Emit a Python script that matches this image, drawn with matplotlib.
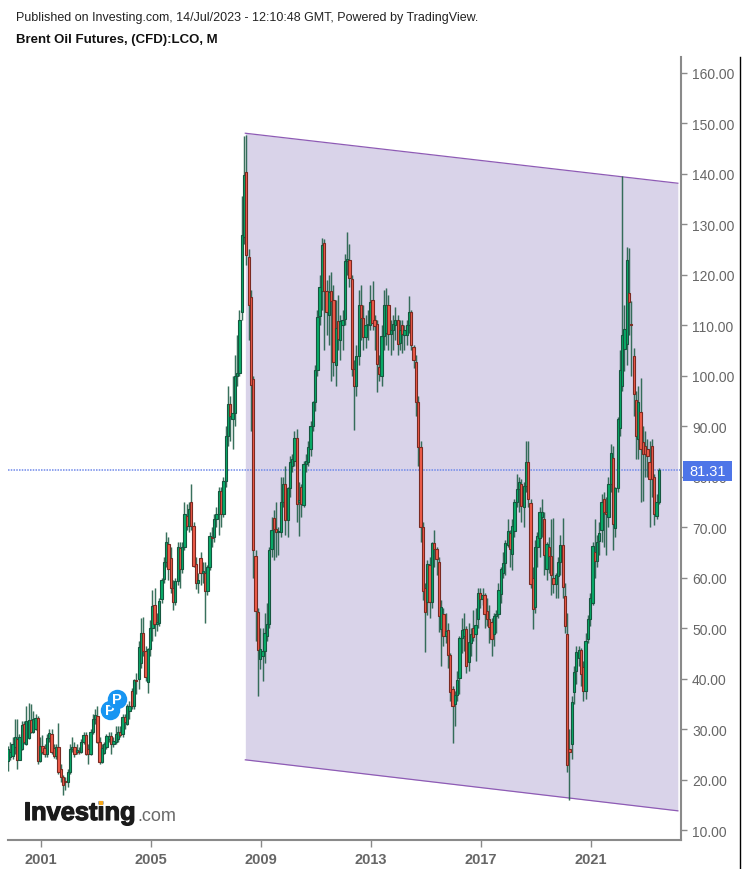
import matplotlib
matplotlib.use('Agg')
import matplotlib.pyplot as plt
import matplotlib.dates as mdates
import matplotlib.patheffects as pe
from matplotlib.lines import Line2D
from matplotlib.patches import Rectangle
import pandas as pd

W, H = 747, 870

# monthly candles, Nov 1999 to Jul 2023, one line per year
opens = [
    23.7, 24.5,
    24.7, 26.5, 28.1, 23.9, 26.0, 30.9, 27.0, 28.2, 31.8, 29.5, 30.0, 32.2,
    23.7, 26.7, 26.3, 25.0, 28.3, 29.0, 26.3, 24.7, 26.5, 22.0, 20.5, 19.8,
    19.5, 21.5, 26.0, 26.5, 25.5, 25.5, 25.4, 27.5, 28.8, 26.0, 25.0, 29.5,
    32.0, 32.6, 27.5, 23.5, 25.3, 26.5, 28.0, 28.7, 27.0, 27.5, 28.0, 29.5,
    29.0, 32.3, 31.0, 33.6, 37.5, 34.5, 39.8, 39.9, 43.0, 49.1, 45.5, 39.4,
    45.8, 50.1, 54.6, 50.8, 51.0, 55.7, 59.7, 63.0, 66.7, 63.8, 58.0, 55.1,
    59.4, 65.8, 61.7, 66.0, 72.1, 70.3, 75.0, 70.3, 62.6, 59.0, 63.8, 61.0,
    61.0, 57.3, 62.0, 68.0, 68.0, 71.6, 72.6, 77.1, 72.6, 79.2, 88.0, 94.4,
    91.4, 92.5, 100.0, 100.6, 112.6, 127.4, 140.4, 123.4, 115.5, 99.3, 64.2, 53.1,
    43.9, 44.5, 45.5, 48.5, 50.8, 65.6, 71.7, 69.7, 69.0, 69.0, 75.0, 78.5,
    71.3, 77.7, 82.0, 83.0, 87.6, 75.0, 78.0, 74.4, 82.5, 82.9, 85.5, 90.0,
    94.7, 101.1, 111.9, 116.8, 126.2, 116.8, 112.0, 116.8, 114.9, 102.0, 110.9, 107.0,
    110.0, 111.2, 122.6, 122.9, 119.2, 101.3, 97.9, 103.8, 114.0, 111.4, 107.6, 110.0,
    110.0, 115.0, 111.0, 110.2, 101.8, 100.0, 107.8, 108.5, 114.0, 108.2, 109.0, 110.0,
    111.0, 106.5, 110.0, 108.0, 108.0, 110.0, 112.5, 105.6, 102.7, 94.7, 85.8, 70.1,
    58.0, 55.1, 62.5, 55.2, 66.8, 65.6, 63.0, 49.8, 52.8, 48.5, 49.7, 44.6,
    37.9, 35.0, 36.7, 40.2, 48.1, 48.5, 49.8, 43.2, 47.0, 50.1, 48.8, 51.8,
    56.9, 55.7, 56.6, 53.4, 51.8, 51.1, 48.8, 52.4, 52.8, 56.7, 61.0, 62.9,
    66.5, 68.9, 64.6, 69.3, 75.0, 77.5, 78.5, 74.0, 78.2, 82.8, 74.7, 60.0,
    54.1, 66.0, 67.9, 72.0, 71.6, 61.7, 66.0, 64.2, 60.0, 58.7, 60.4, 63.0,
    66.4, 56.3, 48.9, 26.0, 27.0, 37.4, 41.5, 44.0, 45.6, 42.2, 37.5, 47.8,
    51.8, 55.0, 65.0, 63.3, 67.3, 69.4, 75.5, 73.0, 71.9, 78.5, 83.6, 69.9,
    77.8, 89.7, 98.0, 105.2, 106.2, 116.3, 110.2, 103.8, 95.2, 87.5, 92.7, 86.8,
    86.0, 85.4, 82.9, 86.0, 80.0, 72.1, 75.0,
]
closes = [
    26.0, 25.5,
    27.0, 28.5, 23.9, 28.4, 30.8, 27.5, 31.5, 31.8, 29.5, 32.0, 32.2, 23.7,
    26.7, 25.5, 25.0, 28.2, 29.2, 25.5, 24.6, 26.5, 21.5, 20.5, 19.0, 19.5,
    21.5, 26.0, 26.5, 25.0, 25.6, 25.4, 27.5, 28.8, 25.0, 25.0, 29.5, 32.0,
    32.8, 27.5, 23.5, 26.2, 27.0, 28.6, 28.7, 27.0, 27.7, 29.0, 29.5, 28.8,
    32.3, 31.4, 34.5, 34.5, 34.5, 39.8, 39.5, 46.3, 49.1, 45.5, 40.4, 45.8,
    50.1, 54.4, 50.8, 51.2, 55.4, 59.6, 63.0, 67.0, 61.7, 58.0, 55.1, 59.3,
    66.0, 61.7, 66.0, 72.6, 70.3, 73.6, 70.3, 62.3, 59.0, 59.5, 61.0, 61.2,
    57.4, 62.0, 68.2, 67.8, 71.6, 72.6, 77.1, 72.6, 79.2, 88.0, 94.4, 92.0,
    92.5, 100.0, 100.6, 111.0, 127.8, 139.8, 123.9, 114.0, 98.1, 65.4, 53.4, 45.6,
    45.8, 45.5, 49.1, 50.8, 65.5, 69.5, 69.6, 69.0, 69.3, 75.0, 78.5, 71.3,
    77.7, 82.8, 83.5, 87.6, 74.6, 75.3, 74.6, 82.5, 83.1, 85.9, 90.0, 94.7,
    101.1, 111.7, 117.5, 125.9, 116.8, 112.5, 116.5, 114.8, 102.7, 109.5, 107.2, 110.9,
    111.0, 122.6, 123.0, 119.4, 101.3, 97.9, 103.8, 114.0, 111.4, 107.6, 110.0, 110.1,
    114.5, 110.4, 109.9, 102.2, 100.3, 107.8, 114.0, 114.0, 108.2, 109.0, 110.2, 111.0,
    106.2, 109.0, 108.2, 109.0, 110.0, 112.5, 106.0, 103.1, 94.7, 85.8, 70.1, 57.3,
    53.1, 62.7, 55.1, 66.8, 65.6, 63.7, 52.3, 54.1, 48.4, 49.5, 44.6, 37.3,
    34.6, 36.7, 39.7, 48.1, 49.7, 49.8, 42.4, 47.2, 48.8, 48.3, 50.6, 56.9,
    55.7, 56.6, 52.8, 51.8, 50.3, 47.8, 52.4, 52.8, 57.6, 61.6, 62.9, 66.9,
    69.2, 65.6, 70.3, 75.0, 77.5, 79.0, 74.2, 78.2, 82.8, 75.5, 58.7, 53.8,
    66.0, 68.3, 72.9, 73.0, 64.5, 66.6, 64.2, 60.5, 58.7, 60.5, 63.0, 66.5,
    58.2, 50.5, 22.9, 25.4, 35.3, 41.2, 45.2, 45.6, 40.9, 37.5, 47.5, 51.8,
    55.9, 66.2, 63.2, 67.0, 68.9, 75.0, 73.0, 72.5, 78.5, 84.6, 70.6, 77.8,
    91.4, 101.1, 108.0, 109.3, 122.9, 114.6, 110.0, 96.3, 88.0, 94.8, 85.4, 84.5,
    84.5, 84.1, 79.5, 79.6, 72.6, 75.0, 81.31,
]
highs = [
    26.7, 27.5,
    28.5, 32.0, 32.0, 29.0, 31.5, 31.5, 34.5, 35.2, 35.0, 33.5, 33.0, 32.5,
    28.5, 28.8, 27.0, 29.0, 30.0, 30.0, 27.0, 27.0, 31.2, 23.0, 20.8, 20.5,
    22.0, 27.0, 28.5, 27.5, 27.0, 26.5, 28.0, 29.5, 29.5, 27.0, 30.0, 33.0,
    34.0, 34.5, 28.5, 27.0, 27.5, 29.0, 29.5, 29.5, 28.5, 30.5, 30.5, 30.5,
    33.0, 33.0, 35.0, 35.5, 38.2, 40.0, 41.0, 47.5, 52.0, 52.1, 46.5, 46.0,
    51.5, 57.5, 58.0, 53.0, 56.0, 60.0, 64.0, 69.0, 68.0, 66.0, 59.5, 60.0,
    67.0, 67.0, 67.0, 75.0, 74.5, 75.0, 78.5, 71.0, 64.0, 61.0, 65.0, 63.0,
    63.0, 62.5, 69.0, 70.0, 72.5, 74.0, 78.0, 78.0, 80.0, 90.0, 98.0, 96.0,
    100.0, 104.0, 108.0, 113.0, 135.5, 147.5, 147.7, 125.0, 117.0, 100.0, 65.5, 54.0,
    50.0, 50.0, 53.0, 55.0, 66.0, 72.0, 73.3, 75.0, 70.0, 80.0, 80.0, 82.0,
    78.0, 84.0, 84.5, 89.0, 89.5, 79.0, 78.5, 83.0, 84.5, 87.0, 91.0, 95.0,
    102.0, 113.0, 120.0, 127.3, 127.0, 119.0, 120.0, 120.5, 118.0, 115.0, 116.0, 112.0,
    113.0, 124.0, 128.4, 126.0, 120.0, 103.0, 106.0, 117.0, 118.0, 114.0, 112.0, 113.0,
    118.0, 118.7, 112.0, 111.0, 104.0, 110.0, 117.0, 117.3, 116.0, 111.0, 112.0, 113.5,
    112.0, 111.0, 111.0, 110.0, 111.0, 115.7, 113.0, 106.0, 104.0, 96.0, 87.0, 71.0,
    59.0, 63.5, 64.0, 67.0, 69.5, 66.0, 64.0, 55.5, 54.0, 53.0, 51.0, 45.0,
    38.5, 37.5, 41.5, 48.5, 52.0, 53.0, 50.5, 51.0, 50.0, 53.5, 54.0, 58.0,
    58.0, 58.0, 57.0, 56.0, 54.5, 52.0, 53.0, 53.5, 59.0, 62.0, 65.0, 67.5,
    71.5, 69.5, 71.5, 75.5, 80.5, 80.0, 79.5, 79.0, 87.0, 87.0, 75.5, 62.0,
    67.5, 69.0, 74.0, 75.5, 73.0, 67.0, 68.0, 71.5, 71.8, 61.0, 64.0, 68.5,
    71.8, 59.0, 53.0, 30.0, 36.5, 42.5, 46.5, 46.5, 46.0, 43.5, 49.0, 52.5,
    57.0, 67.0, 71.5, 68.5, 71.0, 76.5, 77.0, 76.0, 80.0, 86.5, 86.0, 78.0,
    91.8, 105.0, 139.5, 114.0, 125.5, 125.2, 114.8, 105.5, 97.0, 98.0, 99.5, 90.0,
    89.0, 87.5, 87.0, 87.5, 80.5, 76.5, 81.7,
]
lows = [
    21.7, 23.8,
    24.0, 25.0, 22.0, 23.9, 25.8, 27.0, 26.8, 28.0, 29.3, 29.2, 29.8, 23.0,
    23.5, 25.0, 24.5, 24.5, 27.5, 25.0, 24.2, 24.0, 21.0, 19.5, 17.0, 18.0,
    18.5, 21.0, 25.5, 24.5, 25.0, 25.0, 25.2, 27.0, 24.8, 23.0, 24.8, 29.0,
    31.0, 27.2, 23.0, 23.3, 25.0, 26.0, 27.5, 25.0, 26.5, 27.0, 27.5, 28.5,
    28.5, 30.0, 30.8, 32.0, 34.0, 34.0, 37.0, 38.0, 42.0, 44.5, 39.5, 37.2,
    44.5, 47.5, 48.5, 49.5, 50.5, 55.0, 59.0, 62.0, 59.5, 57.0, 53.5, 54.5,
    58.5, 58.0, 61.0, 65.5, 69.5, 69.0, 69.5, 62.0, 57.7, 57.0, 58.5, 59.0,
    50.9, 56.5, 61.5, 66.0, 67.0, 70.0, 68.5, 70.0, 72.0, 78.0, 86.0, 87.0,
    85.5, 90.0, 98.0, 100.0, 111.0, 126.0, 122.0, 107.0, 89.0, 60.0, 47.5, 36.5,
    41.9, 39.6, 43.0, 47.5, 50.0, 64.0, 63.5, 64.0, 64.5, 68.0, 74.0, 68.5,
    68.0, 76.0, 81.0, 82.0, 71.0, 68.3, 72.0, 74.0, 81.0, 82.0, 84.0, 89.0,
    93.0, 100.0, 110.0, 113.0, 105.0, 108.0, 106.0, 99.0, 100.0, 98.0, 105.0, 103.0,
    105.0, 110.0, 120.0, 117.5, 100.0, 89.2, 96.0, 102.0, 107.0, 105.0, 105.5, 107.0,
    109.0, 109.0, 105.0, 96.8, 99.0, 98.0, 105.0, 106.0, 105.0, 104.0, 105.0, 107.0,
    104.0, 105.0, 104.5, 105.0, 106.0, 108.5, 105.0, 101.5, 92.0, 82.0, 67.0, 55.5,
    45.2, 52.5, 52.0, 54.0, 62.0, 60.5, 49.3, 42.5, 46.5, 47.0, 42.0, 35.5,
    27.3, 30.5, 35.5, 37.0, 45.0, 45.5, 41.0, 41.5, 44.5, 47.5, 43.5, 50.0,
    54.0, 54.5, 50.0, 50.5, 47.0, 44.5, 46.5, 49.0, 52.0, 55.0, 60.0, 60.5,
    66.0, 62.0, 61.5, 68.0, 74.0, 73.0, 71.0, 70.0, 77.0, 74.0, 58.0, 49.9,
    53.0, 62.0, 64.0, 68.0, 60.5, 59.5, 61.0, 56.5, 57.0, 56.0, 56.0, 60.5,
    56.0, 49.0, 21.5, 16.0, 24.0, 35.0, 39.0, 42.5, 38.5, 35.5, 36.0, 47.0,
    50.5, 54.5, 60.0, 62.0, 64.5, 67.0, 66.0, 64.5, 70.0, 77.0, 65.5, 68.0,
    77.0, 88.0, 97.0, 101.0, 102.0, 108.0, 100.0, 92.0, 83.5, 83.5, 75.0, 75.2,
    80.0, 80.0, 70.0, 76.0, 70.5, 71.5, 74.5,
]

last_price = 81.31
channel_dates = ['2008-06-18', '2024-03-10']
channel_top = [148.0, 138.1]
channel_bottom = [23.9, 13.8]
p_dates = ['2003-07-15', '2003-10-15']
p_prices = [33.8, 35.9]
price_ticks = list(range(10, 170, 10))
year_ticks = [2001, 2005, 2009, 2013, 2017, 2021]

GREEN, GREEN_EDGE = '#08ad69', '#15573f'
RED, RED_EDGE = '#f05c4a', '#7a2a22'
WICK = '#1f5f48'
AXIS = '#8a8a8a'
TEXT = '#666666'

plt.rcParams['font.family'] = ['Liberation Sans', 'DejaVu Sans']


def fx(px):
    return px / W


def fy(py):
    return 1 - py / H


fig = plt.figure(figsize=(W / 100, H / 100), dpi=100)
ax = fig.add_axes([fx(8), fy(841), fx(681 - 8), (841 - 58) / H])

dates = pd.date_range('1999-11-01', periods=len(closes), freq='MS')
d = mdates.date2num(dates)

cd = mdates.date2num(pd.to_datetime(channel_dates))
ax.fill_between(cd, channel_bottom, channel_top, color='#d9d3e9', lw=0, zorder=1)
ax.plot(cd, channel_top, color='#8e5bb5', lw=0.9, zorder=1.5)
ax.plot(cd, channel_bottom, color='#8e5bb5', lw=0.9, zorder=1.5)

ax.axhline(last_price, color='#6f89ea', lw=1.1, ls=(0, (1, 0.8)), zorder=1.6)

# soft halo, wicks, then bodies over them
ax.vlines(d, lows, highs, color=WICK, lw=1.8, alpha=0.22, zorder=2)
ax.vlines(d, lows, highs, color=WICK, lw=0.8, alpha=0.85, zorder=2.1)
bottoms = [min(o, c) for o, c in zip(opens, closes)]
heights = [max(abs(c - o), 0.25) for o, c in zip(opens, closes)]
fills = [GREEN if c >= o else RED for o, c in zip(opens, closes)]
edges = [GREEN_EDGE if c >= o else RED_EDGE for o, c in zip(opens, closes)]
ax.bar(d, heights, bottom=bottoms, width=30, color=fills, edgecolor=edges, lw=0.8, zorder=3)

pd_num = mdates.date2num(pd.to_datetime(p_dates))
for i, (x, y) in enumerate(zip(pd_num, p_prices)):
    ax.plot([x], [y], 'o', ms=14, color='#1795f2', mec='none', zorder=4 + i)
    ax.text(x, y, 'P', color='white', ha='center', va='center', fontsize=10.5, fontweight='bold', zorder=4 + i)

ax.set_ylim(8.02, 163.1)
ax.set_xlim(mdates.date2num(pd.Timestamp('1999-11-01')), mdates.date2num(pd.Timestamp('2024-04-21')))

ax.yaxis.tick_right()
ax.set_yticks(price_ticks)
ax.set_yticklabels([f'{v:.2f}' for v in price_ticks])
ax.set_xticks(mdates.date2num(pd.to_datetime([f'{y}-01-15' for y in year_ticks])))
ax.set_xticklabels([str(y) for y in year_ticks], fontweight='bold')
ax.tick_params(axis='y', length=4, width=1, color=AXIS, labelcolor=TEXT, labelsize=10, pad=4)
ax.tick_params(axis='x', length=5, width=1, color=AXIS, labelcolor=TEXT, labelsize=10.5, pad=4)
for side in ('left', 'top'):
    ax.spines[side].set_visible(False)
for side in ('bottom', 'right'):
    ax.spines[side].set_color(AXIS)
    ax.spines[side].set_linewidth(1.5)

# black frame edge on the far right
fig.add_artist(Line2D([fx(739.5), fx(739.5)], [0, fy(58)], color='black', lw=1))

fig.add_artist(Rectangle((fx(683), fy(482)), fx(49), 20 / H, color='#4e75e8', lw=0, zorder=6))
fig.text(fx(707.5), fy(472), f'{last_price:.2f}', color='white', ha='center', va='center', fontsize=10.5, zorder=7)

fig.text(fx(16), fy(18), 'Published on Investing.com, 14/Jul/2023 - 12:10:48 GMT, Powered by TradingView.',
         fontsize=9.0, color='#222222', va='center')
fig.text(fx(16), fy(40), 'Brent Oil Futures, (CFD):LCO, M', fontsize=9.5, fontweight='bold', color='#111111', va='center')

logo = fig.text(fx(24), fy(821), 'Investing', fontsize=18.3, fontweight='bold', color='#1a1a1a', va='baseline')
logo.set_path_effects([pe.withStroke(linewidth=0.9, foreground='#1a1a1a')])
fig.text(fx(137), fy(821), '.com', fontsize=13, color='#6a6a6a', va='baseline')
fig.add_artist(Rectangle((fx(99), fy(806)), fx(4), 4 / H, color='#f7a81b', lw=0, zorder=6))

fig.savefig('out.png', dpi=100)
